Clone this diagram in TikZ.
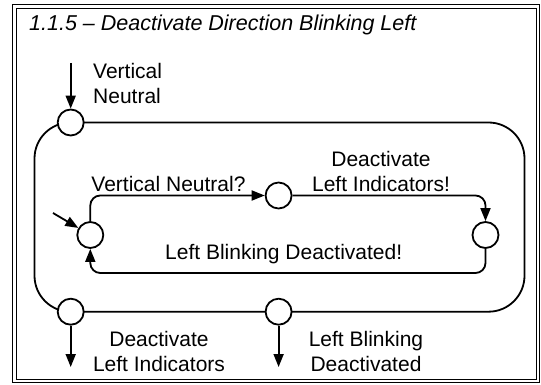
\documentclass[tikz,border=0pt]{standalone}
\usepackage{fontspec}
\setmainfont{Liberation Sans}
\usetikzlibrary{arrows.meta}

\begin{document}
\begin{tikzpicture}[x=1pt, y=-1pt,
    port/.style={circle, draw, fill=white, line width=1.8pt, minimum size=26pt, inner sep=0pt},
    lbl/.style={font=\fontsize{21}{25}\selectfont, align=center, inner sep=0pt},
    flow/.style={line width=1.8pt, -{Triangle[length=13pt,width=10pt]}}]
    \useasboundingbox (0,0) rectangle (541,385);

    % Frame
    \draw[line width=1.4pt] (12.5,4.5) rectangle (539.5,382.5);
    \draw[line width=0.9pt] (16.5,8) rectangle (536.5,379);
    \node[lbl, anchor=base west, font=\fontsize{21.5}{25}\selectfont\itshape] (title) at (29,30.5) {1.1.5 -- Deactivate Direction Blinking Left};

    % Outer state
    \draw[line width=1.8pt, rounded corners=36pt] (34.5,122.5) rectangle (524.5,311.7);
    \node[port] (ol) at (70.7,122.5) {};
    \node[port] (bl) at (70.7,311.7) {};
    \node[port] (bm) at (278.6,311.7) {};

    % Inner states
    \node[port] (il) at (90.3,235) {};
    \node[port] (it) at (278.6,195.5) {};
    \node[port] (ir) at (485.5,235) {};

    % Entry and exits
    \coordinate (entry) at (70.7,63);
    \coordinate (init) at (53,213);
    \coordinate (exita) at (70.7,367);
    \coordinate (exitb) at (278.6,367);
    \draw[flow] (entry) -- (ol);
    \draw[flow] (init) -- (il);
    \draw[flow] (bl) -- (exita);
    \draw[flow] (bm) -- (exitb);

    % Inner transitions
    \draw[flow, rounded corners=10pt] (il.north) |- (it.west);
    \draw[flow, rounded corners=10pt] (it.east) -| (ir.north);
    \draw[flow, rounded corners=10pt] (ir.south) -- (485.5,273) -| (il.south);

    % Labels
    \node[lbl, anchor=base west, align=left] (vn) at (93,103.3) {Vertical\\Neutral};
    \node[lbl, anchor=base] (vnq) at (168.5,191.4) {Vertical Neutral?};
    \node[lbl, anchor=base] (dli) at (381,191.4) {Deactivate\\Left Indicators!};
    \node[lbl, anchor=base] (lbd) at (283.7,259.3) {Left Blinking Deactivated!};
    \node[lbl, anchor=base] (dlo) at (159,371.4) {Deactivate\\Left Indicators};
    \node[lbl, anchor=base] (lbo) at (366,371.4) {Left Blinking\\Deactivated};
\end{tikzpicture}
\end{document}
